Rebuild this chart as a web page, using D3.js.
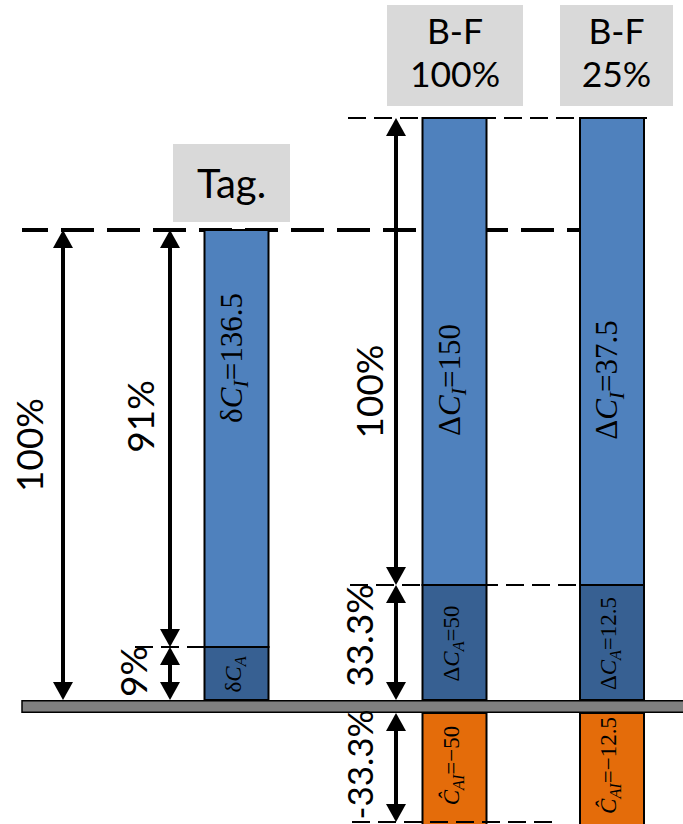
<!DOCTYPE html>
<html><head><meta charset="utf-8">
<script src="https://cdn.jsdelivr.net/npm/d3@7"></script>
<style>
html,body{margin:0;padding:0;background:#fff;}
svg{display:block;}
</style></head>
<body><svg id="chart" width="683" height="824"></svg>
<script>
// ---------------- DATA ----------------
const categories  = ["Tag.", "B-F 100%", "B-F 25%"];
const headerLines = [["Tag."], ["B-F", "100%"], ["B-F", "25%"]];
const symbolPrefix = ["δ", "Δ", "Δ"];
const valuesI  = [136.5, 150, 37.5];      // δC_I / ΔC_I
const valuesA  = [13.5, 50, 12.5];        // δC_A / ΔC_A
const valuesAI = [null, -50, -12.5];      // Ĉ_AI
const pctA  = [9, 33.3, 33.3];            // share of the A part (%)
const pctI  = [91, 100, 100];             // share of the I part (%)
const pctAI = [null, -33.3, -33.3];       // negative part (%)
const showValueA = [false, true, true];
const arrowLabelsTag = ["100%", "91%", "9%"];
const arrowLabelsBF  = ["100%", "33.3%", "-33.3%"];

// ---------------- LAYOUT ----------------
const W = 683, H = 824;
const svg = d3.select("#chart");
const sans = "Lato,'Open Sans',sans-serif";
const serif = "'Liberation Serif','DejaVu Serif',serif";
const colI = "#4f81bd", colA = "#376092", colAI = "#e46c0a";

// schematic (piecewise) value scale in cumulative percent
const y = d3.scaleLinear().domain([0, 9, 33.3, 100, 133.3]).range([700, 647, 585, 230, 118]);
const yNeg = d3.scaleLinear().domain([0, -33.3]).range([713, 822]);
const x = d3.scaleOrdinal().domain(categories).range([236.5, 454.5, 612]);
const barW = 64;

const bars = categories.map((c, i) => ({
  cat: c, i,
  aTop: pctA[i], iTop: pctA[i] + pctI[i], neg: pctAI[i]
}));

// thick dashed reference line at the Tag. total
svg.append("line")
  .attr("x1", 22).attr("x2", x(categories[2]) - barW / 2)
  .attr("y1", y(100)).attr("y2", y(100))
  .attr("stroke", "#000").attr("stroke-width", 4)
  .attr("stroke-dasharray", "33,13").attr("stroke-dashoffset", 7);

// baseline bar
svg.append("rect")
  .attr("x", 22).attr("y", y(0) + 0.75).attr("width", W)
  .attr("height", yNeg(0) - y(0) - 1.5)
  .attr("fill", "#808080").attr("stroke", "#000").attr("stroke-width", 1.5);

// header boxes
const headerLayout = [
  { x0: -63.5, x1: 53.5, gap: 8, h: 78, base: [54], fs: 40 },
  { x0: -67.5, x1: 68.5, gap: 12, h: 101, base: [39, 82], fs: 35.5 },
  { x0: -52, x1: 61, gap: 12, h: 101, base: [39, 82], fs: 35.5 }
];
bars.forEach(b => {
  const L = headerLayout[b.i];
  const cx = x(b.cat);
  const bottom = y(b.iTop) - L.gap;
  const top = bottom - L.h;
  svg.append("rect")
    .attr("x", cx + L.x0).attr("y", top)
    .attr("width", L.x1 - L.x0).attr("height", L.h)
    .attr("fill", "#d9d9d9");
  headerLines[b.i].forEach((line, k) => {
    svg.append("text")
      .attr("text-anchor", "middle")
      .attr("font-family", sans).attr("font-size", L.fs)
      .attr("fill", "#000")
      .attr("x", cx + (L.x0 + L.x1) / 2).attr("y", top + L.base[k])
      .text(line);
  });
});

// bars
const gBars = svg.append("g").attr("stroke", "#000").attr("stroke-width", 2);
bars.forEach(b => {
  const cx = x(b.cat);
  gBars.append("rect")
    .attr("x", cx - barW / 2).attr("width", barW)
    .attr("y", y(b.iTop)).attr("height", y(b.aTop) - y(b.iTop))
    .attr("fill", colI);
  gBars.append("rect")
    .attr("x", cx - barW / 2).attr("width", barW)
    .attr("y", y(b.aTop)).attr("height", y(0) - y(b.aTop))
    .attr("fill", colA);
  if (b.neg != null) {
    gBars.append("rect")
      .attr("x", cx - barW / 2).attr("width", barW)
      .attr("y", yNeg(0)).attr("height", yNeg(b.neg) - yNeg(0) + 12)
      .attr("fill", colAI);
  }
});

// thin dashed guide lines
function dashed(x1, x2, yy) {
  svg.append("line")
    .attr("x1", x1).attr("x2", x2).attr("y1", yy).attr("y2", yy)
    .attr("stroke", "#000").attr("stroke-width", 1.8)
    .attr("stroke-dasharray", "18,8");
}
dashed(348, x(categories[2]) + barW / 2 + 3, y(133.3));
dashed(350, x(categories[2]) + barW / 2, y(33.3));
dashed(135, x(categories[0]) - barW / 2, y(9));
dashed(352, 560, yNeg(-33.3));

// arrows
function arrow(x0, y1, y2) {
  const hl = 18, hw = 10;
  const g = svg.append("g");
  g.append("line").attr("x1", x0).attr("x2", x0)
    .attr("y1", y1 + hl - 2).attr("y2", y2 - hl + 2)
    .attr("stroke", "#000").attr("stroke-width", 4);
  g.append("path").attr("d", `M${x0},${y1} L${x0 - hw},${y1 + hl} L${x0 + hw},${y1 + hl} Z`).attr("fill", "#000");
  g.append("path").attr("d", `M${x0},${y2} L${x0 - hw},${y2 - hl} L${x0 + hw},${y2 - hl} Z`).attr("fill", "#000");
}
function vlabel(bx, cy, t, size) {
  svg.append("text")
    .attr("transform", `translate(${bx},${cy}) rotate(-90)`)
    .attr("text-anchor", "middle")
    .attr("font-family", sans).attr("font-size", size || 37)
    .attr("fill", "#000").text(t);
}
const tagArrows = [
  { ax: 63,  from: y(100), to: y(0), lx: 43,  dy: -20 },
  { ax: 170, from: y(100), to: y(9), lx: 154, dy: -22 },
  { ax: 170, from: y(9),   to: y(0), lx: 147, dy: -2 }
];
tagArrows.forEach((a, k) => {
  arrow(a.ax, a.from, a.to);
  vlabel(a.lx, (a.from + a.to) / 2 + a.dy, arrowLabelsTag[k]);
});
const bfArrows = [
  { ax: 396, from: y(133.3), to: y(33.3), lx: 383, dy: 40, fs: 37 },
  { ax: 396, from: y(33.3),  to: y(0),    lx: 373, dy: -7, fs: 37 },
  { ax: 396, from: yNeg(0),  to: yNeg(-33.3), lx: 373, dy: -3, fs: 35 }
];
bfArrows.forEach((a, k) => {
  arrow(a.ax, a.from, a.to);
  vlabel(a.lx, (a.from + a.to) / 2 + a.dy, arrowLabelsBF[k], a.fs);
});

// math labels inside bars
function fmt(v) { return String(v).replace("-", "\u2212"); }
function mathLabel(cx, cy, parts, size) {
  const t = svg.append("text")
    .attr("transform", `translate(${cx},${cy}) rotate(-90)`)
    .attr("text-anchor", "middle")
    .attr("font-family", serif).attr("font-size", size).attr("fill", "#000");
  let shift = 0;
  parts.forEach(p => {
    const s = t.append("tspan").text(p.t);
    if (p.i) s.attr("font-style", "italic");
    if (p.sub) {
      s.attr("font-size", size * 0.7).attr("dy", size * 0.22 - shift);
      shift = size * 0.22;
    } else if (shift) {
      s.attr("dy", -shift); shift = 0;
    }
  });
}
const bigLabelY = [358, 380, 380];
bars.forEach(b => {
  const cx = x(b.cat) + 5;
  mathLabel(cx, bigLabelY[b.i], [
    { t: symbolPrefix[b.i] }, { t: "C", i: true }, { t: "I", i: true, sub: true },
    { t: "=" }, { t: fmt(valuesI[b.i]) }
  ], 31);
  const aParts = [{ t: symbolPrefix[b.i] }, { t: "C", i: true }, { t: "A", i: true, sub: true }];
  if (showValueA[b.i]) aParts.push({ t: "=" }, { t: fmt(valuesA[b.i]) });
  mathLabel(x(b.cat) + 4, (y(b.aTop) + y(0)) / 2 + 1, aParts, 23);
  if (valuesAI[b.i] != null) {
    mathLabel(x(b.cat) + 4, (yNeg(0) + yNeg(b.neg)) / 2 - 2, [
      { t: "\u0108", i: true }, { t: "AI", i: true, sub: true },
      { t: "=" }, { t: fmt(valuesAI[b.i]) }
    ], 23);
  }
});
</script>
</body></html>
